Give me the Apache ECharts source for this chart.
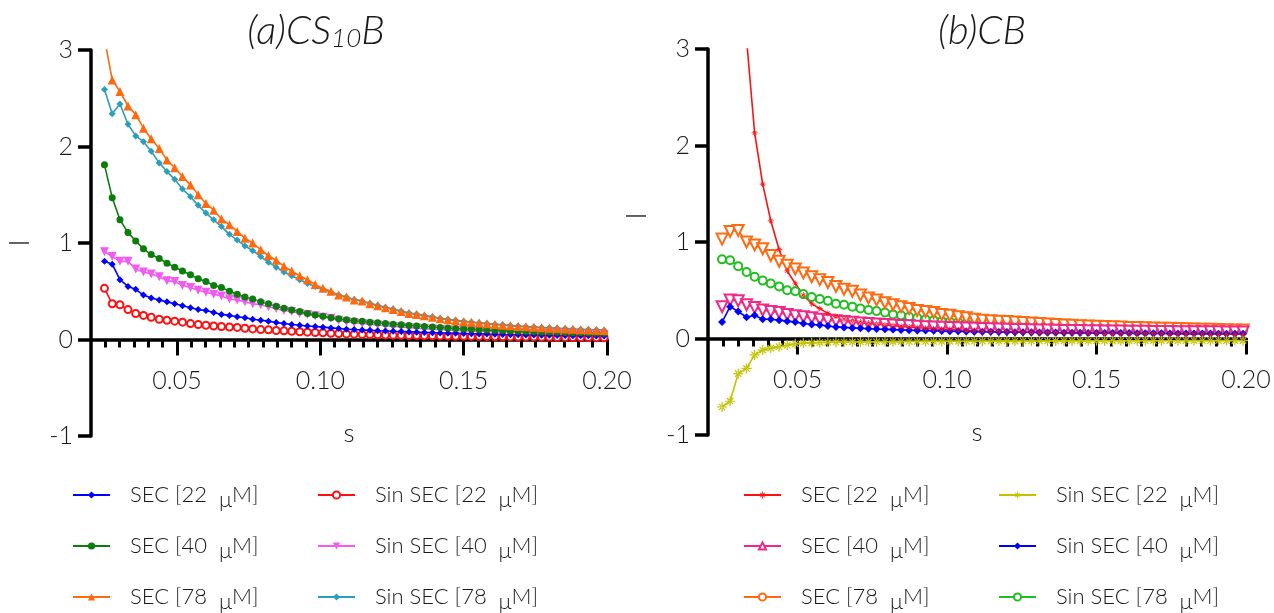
<!DOCTYPE html>
<html>
<head>
<meta charset="utf-8">
<script src="https://cdn.jsdelivr.net/npm/echarts@6/dist/echarts.min.js"></script>
<style>
html,body{margin:0;padding:0;background:#fff;}
#chart{width:1274px;height:613px;}
</style>
</head>
<body>
<div id="chart"></div>
<script>
// scattering vector s shared by every curve
const s = [0.0247,0.0274,0.0301,0.0329,0.0356,0.0383,0.0410,0.0438,0.0465,0.0492,
  0.0519,0.0547,0.0574,0.0601,0.0628,0.0655,0.0683,0.0710,0.0737,0.0764,
  0.0792,0.0819,0.0846,0.0873,0.0900,0.0928,0.0955,0.0982,0.1009,0.1037,
  0.1064,0.1091,0.1118,0.1146,0.1173,0.1200,0.1227,0.1254,0.1282,0.1309,
  0.1336,0.1363,0.1391,0.1418,0.1445,0.1472,0.1500,0.1527,0.1554,0.1581,
  0.1609,0.1636,0.1663,0.1690,0.1717,0.1745,0.1772,0.1799,0.1826,0.1854,
  0.1881,0.1908,0.1935,0.1963,0.1990];

// x-axis ticks and labels
const xMinorTicks = [0.025,0.03,0.035,0.04,0.045,0.055,0.06,0.065,0.07,0.075,0.08,0.085,0.09,0.095,
  0.105,0.11,0.115,0.12,0.125,0.13,0.135,0.14,0.145,0.155,0.16,0.165,0.17,0.175,0.18,0.185,0.19,0.195];
const xMajorTicks = [0.05,0.10,0.15,0.20];

// (a) CS10B
const aSec22 = [0.81,0.78,0.62,0.55,0.52,0.46,0.43,0.41,0.39,0.37,0.35,0.33,0.31,0.30,0.28,0.26,0.25,0.235,0.225,0.21,
  0.20,0.19,0.175,0.165,0.155,0.148,0.14,0.135,0.128,0.12,0.114,0.107,0.103,0.099,0.095,0.091,0.088,0.085,0.082,0.079,
  0.076,0.073,0.071,0.068,0.066,0.064,0.062,0.06,0.058,0.056,0.054,0.052,0.05,0.049,0.047,0.046,0.044,0.043,0.042,0.041,
  0.04,0.039,0.038,0.037,0.036];
const aSec40 = [1.81,1.47,1.24,1.11,1.02,0.94,0.88,0.84,0.79,0.75,0.71,0.67,0.63,0.60,0.56,0.54,0.50,0.47,0.44,0.42,
  0.39,0.37,0.345,0.325,0.305,0.29,0.27,0.255,0.24,0.225,0.215,0.205,0.195,0.188,0.18,0.173,0.166,0.159,0.152,0.146,
  0.14,0.135,0.129,0.124,0.119,0.115,0.11,0.106,0.102,0.098,0.095,0.092,0.089,0.086,0.083,0.081,0.079,0.077,0.075,0.073,
  0.071,0.069,0.068,0.066,0.065];
const aSec78 = [3.12,2.69,2.57,2.42,2.33,2.19,2.08,1.98,1.86,1.78,1.69,1.60,1.50,1.41,1.34,1.25,1.19,1.12,1.05,1.00,
  0.93,0.87,0.82,0.76,0.71,0.66,0.62,0.57,0.53,0.50,0.46,0.44,0.41,0.40,0.37,0.35,0.33,0.31,0.29,0.27,
  0.26,0.245,0.23,0.215,0.205,0.195,0.185,0.178,0.17,0.162,0.155,0.148,0.142,0.136,0.131,0.126,0.121,0.117,0.113,0.109,
  0.105,0.102,0.099,0.096,0.093];
const aSin22 = [0.53,0.37,0.36,0.31,0.27,0.25,0.23,0.21,0.20,0.19,0.18,0.165,0.155,0.148,0.14,0.135,0.13,0.125,0.117,0.11,
  0.103,0.10,0.093,0.09,0.086,0.08,0.076,0.072,0.069,0.065,0.062,0.058,0.055,0.053,0.051,0.049,0.047,0.045,0.044,0.042,
  0.041,0.039,0.038,0.037,0.036,0.034,0.033,0.032,0.031,0.03,0.029,0.028,0.027,0.026,0.025,0.025,0.024,0.023,0.022,0.022,
  0.021,0.02,0.02,0.019,0.018];
const aSin40 = [0.91,0.86,0.81,0.81,0.73,0.70,0.68,0.65,0.61,0.60,0.56,0.54,0.51,0.49,0.47,0.45,0.42,0.41,0.39,0.37,
  0.36,0.34,0.32,0.30,0.29,0.27,0.26,0.245,0.23,0.22,0.20,0.185,0.175,0.165,0.158,0.15,0.143,0.136,0.13,0.124,
  0.118,0.113,0.108,0.103,0.099,0.095,0.091,0.087,0.084,0.081,0.078,0.075,0.072,0.07,0.068,0.066,0.064,0.062,0.06,0.058,
  0.057,0.055,0.054,0.052,0.051];
const aSin78 = [2.59,2.34,2.44,2.23,2.11,2.05,1.95,1.83,1.74,1.66,1.56,1.48,1.39,1.31,1.24,1.17,1.09,1.03,0.97,0.92,
  0.86,0.80,0.75,0.70,0.66,0.62,0.58,0.55,0.52,0.49,0.46,0.44,0.415,0.40,0.375,0.355,0.335,0.315,0.295,0.275,
  0.265,0.25,0.235,0.22,0.21,0.20,0.19,0.182,0.174,0.166,0.159,0.152,0.146,0.14,0.135,0.13,0.125,0.121,0.117,0.113,
  0.109,0.106,0.103,0.10,0.097];

// (b) CB
const bSec22 = [6.5,5.2,4.0,3.1,2.13,1.60,1.22,0.92,0.70,0.57,0.45,0.36,0.31,0.26,0.23,0.20,0.185,0.17,0.16,0.15,
  0.14,0.132,0.125,0.118,0.112,0.106,0.10,0.096,0.092,0.088,0.084,0.08,0.077,0.075,0.072,0.07,0.068,0.066,0.064,0.063,
  0.061,0.06,0.059,0.058,0.057,0.056,0.055,0.054,0.053,0.052,0.052,0.051,0.05,0.05,0.049,0.049,0.048,0.048,0.047,0.047,
  0.046,0.046,0.045,0.045,0.045];
const bSec40 = [0.33,0.40,0.39,0.35,0.32,0.295,0.28,0.27,0.25,0.235,0.225,0.215,0.20,0.19,0.185,0.175,0.168,0.161,0.155,0.15,
  0.145,0.14,0.135,0.131,0.127,0.123,0.12,0.117,0.114,0.111,0.108,0.105,0.103,0.10,0.098,0.096,0.094,0.092,0.09,0.088,
  0.087,0.085,0.084,0.083,0.082,0.081,0.08,0.079,0.078,0.077,0.076,0.075,0.074,0.073,0.073,0.072,0.071,0.071,0.07,0.07,
  0.069,0.069,0.068,0.068,0.067];
const bSec78 = [1.03,1.11,1.12,1.00,0.97,0.93,0.86,0.80,0.76,0.72,0.68,0.64,0.61,0.58,0.54,0.51,0.49,0.45,0.42,0.40,
  0.37,0.35,0.33,0.31,0.29,0.28,0.27,0.25,0.24,0.225,0.215,0.20,0.19,0.185,0.18,0.175,0.17,0.165,0.16,0.155,
  0.15,0.145,0.14,0.137,0.133,0.13,0.127,0.124,0.121,0.118,0.115,0.113,0.111,0.109,0.107,0.105,0.103,0.101,0.099,0.097,
  0.095,0.093,0.091,0.089,0.087];
const bSin22 = [-0.71,-0.65,-0.365,-0.31,-0.17,-0.12,-0.10,-0.085,-0.07,-0.055,-0.048,-0.045,-0.042,-0.04,-0.038,-0.037,-0.036,-0.035,-0.034,-0.033,
  -0.033,-0.032,-0.032,-0.031,-0.031,-0.03,-0.03,-0.03,-0.029,-0.029,-0.029,-0.028,-0.028,-0.028,-0.027,-0.027,-0.027,-0.026,-0.026,-0.026,
  -0.026,-0.025,-0.025,-0.025,-0.025,-0.025,-0.024,-0.024,-0.024,-0.024,-0.024,-0.023,-0.023,-0.023,-0.023,-0.023,-0.023,-0.022,-0.022,-0.022,
  -0.022,-0.022,-0.022,-0.021,-0.021];
const bSin40 = [0.17,0.33,0.28,0.22,0.24,0.20,0.20,0.19,0.18,0.17,0.155,0.145,0.14,0.13,0.12,0.115,0.11,0.106,0.102,0.098,
  0.095,0.092,0.089,0.086,0.084,0.082,0.08,0.078,0.076,0.074,0.072,0.071,0.07,0.069,0.068,0.067,0.066,0.065,0.064,0.063,
  0.062,0.061,0.06,0.06,0.059,0.058,0.058,0.057,0.057,0.056,0.056,0.055,0.055,0.054,0.054,0.053,0.053,0.052,0.052,0.051,
  0.051,0.05,0.05,0.05,0.049];
const bSin78 = [0.82,0.81,0.75,0.69,0.64,0.60,0.57,0.54,0.50,0.49,0.46,0.43,0.41,0.39,0.36,0.35,0.33,0.31,0.295,0.285,
  0.27,0.25,0.24,0.225,0.215,0.20,0.19,0.18,0.175,0.17,0.158,0.15,0.142,0.139,0.136,0.133,0.13,0.127,0.124,0.121,
  0.118,0.115,0.113,0.111,0.109,0.107,0.105,0.103,0.101,0.099,0.097,0.095,0.094,0.092,0.091,0.09,0.089,0.088,0.087,0.086,
  0.085,0.084,0.083,0.082,0.081];

const FONT = 'Lato, "Open Sans", sans-serif';
const INK = '#1a1a1a';

// asterisk marker built from four bars
const ASTERISK = 'path://M0,8.8L20,8.8L20,11.2L0,11.2ZM8.8,0L11.2,0L11.2,20L8.8,20Z' +
  'M2.79,4.49L15.51,17.21L17.21,15.51L4.49,2.79ZM4.49,17.21L17.21,4.49L15.51,2.79L2.79,15.51Z';

const pts = ys => s.map((x, i) => [x, ys[i]]);

// curve styles: [label, values, colour, symbol, size, rotate, hollow, legend symbol, legend rotate]
const panelA = [
  ['SEC [22  μM]',     aSec22, '#0000ff', 'diamond',        7, 0,   false, 'diamond',        0],
  ['SEC [40  μM]',     aSec40, '#0a7d0a', 'circle',         7, 0,   false, 'circle',         0],
  ['SEC [78  μM]',     aSec78, '#ff6a10', 'triangle',       9, 0,   false, 'triangle',       0],
  ['Sin SEC [22  μM]', aSin22, '#ff1010', 'emptyCircle',    7, 0,   true,  'emptyCircle',    0],
  ['Sin SEC [40  μM]', aSin40, '#f25af2', 'triangle',       9, 180, false, 'triangle',       180],
  ['Sin SEC [78  μM]', aSin78, '#2a9fbb', 'diamond',        7, 0,   false, 'diamond',        0]
];
const panelB = [
  ['SEC [22  μM]',     bSec22, '#ff1010', ASTERISK,         6, 0,   false, ASTERISK,         0],
  ['SEC [40  μM]',     bSec40, '#f0288a', 'emptyTriangle', 11, 180, true,  'emptyTriangle',  0],
  ['SEC [78  μM]',     bSec78, '#ff6a10', 'emptyTriangle', 11, 180, true,  'emptyCircle',    0],
  ['Sin SEC [22  μM]', bSin22, '#c2c200', ASTERISK,        10, 0,   false, ASTERISK,         0],
  ['Sin SEC [40  μM]', bSin40, '#0000ff', 'diamond',        8, 0,   false, 'diamond',        0],
  ['Sin SEC [78  μM]', bSin78, '#1fbf1f', 'emptyCircle',    8, 0,   true,  'emptyCircle',    0]
];
// drawing order inside each panel (later ones sit on top)
const orderA = [5, 4, 3, 0, 1, 2];
const orderB = [5, 2, 1, 4, 0, 3];

function curve(spec, axis) {
  const [label, values, color, symbol, size, rotate, hollow] = spec;
  return {
    type: 'line', name: label, xAxisIndex: axis * 2, yAxisIndex: axis,
    data: pts(values), symbol: symbol, symbolSize: size, symbolRotate: rotate,
    showAllSymbol: true, clip: true, animation: false, silent: true,
    lineStyle: { color: color, width: 1.6 },
    itemStyle: hollow ? { color: color, borderColor: color, borderWidth: 1.5 } : { color: color, borderWidth: 0 }
  };
}
// empty series that only supply the legend keys
function key(spec, prefix, axis) {
  const [label, , color, , , , hollow, lSymbol, lRotate] = spec;
  return {
    type: 'line', name: prefix + label, xAxisIndex: axis * 2, yAxisIndex: axis, data: [],
    symbol: lSymbol, symbolRotate: lRotate, animation: false,
    lineStyle: { color: color, width: 2 },
    itemStyle: hollow ? { color: color, borderColor: color } : { color: color }
  };
}

const series = [];
orderA.forEach(i => series.push(curve(panelA[i], 0)));
orderB.forEach(i => series.push(curve(panelB[i], 1)));
panelA.forEach(sp => series.push(key(sp, 'a:', 0)));
panelB.forEach(sp => series.push(key(sp, 'b:', 1)));

const labelText = { fontFamily: FONT, fontSize: 25, fontWeight: 300, color: INK };

// the x axis runs along I = 0, a quarter of the plot height above the bottom edge
function xAxes(grid, lift) {
  return [{
    gridIndex: grid, type: 'value', min: 0.02, max: 0.2, position: 'bottom', offset: -lift,
    axisLine: { onZero: false, lineStyle: { color: '#000', width: 3.5 } },
    axisTick: { customValues: xMinorTicks, length: 8, lineStyle: { color: '#000', width: 3 } },
    axisLabel: Object.assign({ customValues: xMajorTicks, margin: 29, formatter: v => v.toFixed(2) }, labelText),
    splitLine: { show: false },
    name: 's', nameLocation: 'middle', nameGap: 81,
    nameTextStyle: { fontFamily: FONT, fontSize: 26, fontWeight: 300, color: INK }
  }, {
    gridIndex: grid, type: 'value', min: 0.02, max: 0.2, position: 'bottom', offset: -lift,
    axisLine: { show: false, onZero: false },
    axisTick: { customValues: xMajorTicks, length: 16, lineStyle: { color: '#000', width: 3 } },
    axisLabel: { show: false }, splitLine: { show: false }
  }];
}
function yAxis(grid, namePad) {
  return {
    gridIndex: grid, type: 'value', min: -1, max: 3, interval: 1,
    axisLine: { show: true, onZero: false, lineStyle: { color: '#000', width: 3.5 } },
    axisTick: { show: true, length: 13, lineStyle: { color: '#000', width: 3.5 } },
    axisLabel: Object.assign({ margin: 18, formatter: v => String(v) }, labelText),
    splitLine: { show: false },
    name: 'I', nameLocation: 'middle', nameRotate: 90, nameGap: 57,
    nameTextStyle: { fontFamily: FONT, fontSize: 27, fontWeight: 300, color: INK, padding: namePad }
  };
}

function legendBlock(left, names) {
  return {
    left: left, top: 484, orient: 'vertical', padding: 0,
    itemWidth: 37, itemHeight: 9, itemGap: 24.5, selectedMode: false,
    data: names,
    formatter: n => '{sp|}' + n.slice(2).replace('μ', '{m|μ}'),
    textStyle: {
      fontFamily: FONT, fontSize: 22, fontWeight: 300, color: INK,
      rich: { sp: { width: 15 }, m: { fontSize: 22, padding: [9, 0, 0, 0] } }
    }
  };
}
const namesA = panelA.map(sp => 'a:' + sp[0]);
const namesB = panelB.map(sp => 'b:' + sp[0]);

const titleRich = {
  t: { fontFamily: FONT, fontSize: 40, fontStyle: 'italic', fontWeight: 300, fill: INK },
  sub: { fontFamily: FONT, fontSize: 26, fontStyle: 'italic', fontWeight: 300, fill: INK, padding: [15, 0, 0, 0] }
};

const chart = echarts.init(document.getElementById('chart'), null, { renderer: 'canvas' });
chart.setOption({
  backgroundColor: '#ffffff',
  animation: false,
  grid: [
    { left: 91, right: 667, top: 50, bottom: 177 },
    { left: 708, right: 28, top: 49, bottom: 178 }
  ],
  xAxis: xAxes(0, 96.5).concat(xAxes(1, 96.5)),
  yAxis: [yAxis(0, [0, 0, 0, 0]), yAxis(1, [0, 0, 0, 52])],
  legend: [
    legendBlock(72, namesA.slice(0, 3)),
    legendBlock(317, namesA.slice(3)),
    legendBlock(743, namesB.slice(0, 3)),
    legendBlock(998, namesB.slice(3))
  ],
  graphic: [
    { type: 'text', x: 316, y: 31, style: { text: '{t|(a)CS}{sub|10}{t|B}', align: 'center', verticalAlign: 'middle', rich: titleRich } },
    { type: 'text', x: 982, y: 31, style: { text: '{t|(b)CB}', align: 'center', verticalAlign: 'middle', rich: titleRich } }
  ],
  series: series
});
</script>
</body>
</html>
